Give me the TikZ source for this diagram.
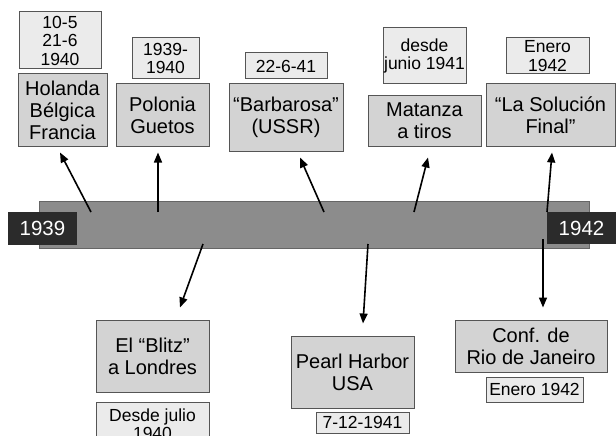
\documentclass[tikz,border=0pt]{standalone}
\usepackage{fontspec}
\setmainfont{Liberation Sans}
\usepackage{xcolor}
\usepackage{tikz}
\usetikzlibrary{calc, arrows.meta}

\definecolor{barfill}{HTML}{8C8C8C}
\definecolor{barline}{HTML}{666666}
\definecolor{eventfill}{HTML}{D3D3D3}
\definecolor{datefill}{HTML}{EBEBEB}
\definecolor{boxline}{HTML}{555555}
\definecolor{yearfill}{HTML}{2B2B2B}

\begin{document}
\begin{tikzpicture}[x=1pt, y=-1pt,
        eventbox/.style={draw=boxline, fill=eventfill, line width=1pt, inner sep=0pt,
            align=center, font=\fontsize{20}{22}\selectfont},
        datebox/.style={draw=boxline, fill=datefill, line width=1pt, inner sep=0pt,
            align=center, font=\fontsize{17.5}{18.5}\selectfont},
        yearbox/.style={fill=yearfill, text=white, inner sep=0pt,
            font=\fontsize{20.5}{22}\selectfont},
        arr/.style={-{Triangle[length=10pt, width=8pt]}, line width=1.6pt}]
    \useasboundingbox (0, 0) rectangle (616, 436);

    \node[draw=barline, fill=barfill, line width=1pt,
        minimum width=550pt, minimum height=47pt] (bar) at (314, 224.5) {};

    % events above the bar
    \node[datebox, minimum width=82pt, minimum height=57pt] (d-holanda) at (60, 40.5) {10-5\\21-6\\1940};
    \node[eventbox, minimum width=89pt, minimum height=72pt] (holanda) at (62.5, 110) {Holanda\\Bélgica\\Francia};

    \node[datebox, minimum width=67pt, minimum height=41pt] (d-polonia) at (165.5, 58.5) {1939-\\1940};
    \node[eventbox, minimum width=93pt, minimum height=62pt] (polonia) at (162.5, 115) {Polonia\\Guetos};

    \node[datebox, minimum width=82pt, minimum height=26pt] (d-barbarosa) at (286, 66) {22-6-41};
    \node[eventbox, minimum width=114pt, minimum height=67pt] (barbarosa) at (286, 117.5) {“Barbarosa”\\(USSR)};

    \node[datebox, minimum width=83pt, minimum height=56pt] (d-matanza) at (424.5, 56) {desde\\junio 1941};
    \node[eventbox, minimum width=113pt, minimum height=51pt] (matanza) at (424.5, 120.5) {Matanza\\a tiros};

    \node[datebox, minimum width=83pt, minimum height=36pt] (d-solucion) at (547.5, 56) {Enero\\1942};
    \node[eventbox, minimum width=129pt, minimum height=62pt] (solucion) at (550.5, 115) {“La Solución\\Final”};

    % events below the bar
    \node[eventbox, minimum width=113pt, minimum height=72pt] (blitz) at (152.5, 356) {El “Blitz”\\a Londres};
    \node[datebox, minimum width=113pt, minimum height=44pt] (d-blitz) at (152.5, 424) {Desde julio\\1940};

    \node[eventbox, minimum width=123pt, minimum height=72pt] (pearl) at (352.5, 372) {Pearl Harbor\\USA};
    \node[datebox, minimum width=93pt, minimum height=21pt] (d-pearl) at (362.5, 422.5) {7-12-1941};

    \node[eventbox, minimum width=152pt, minimum height=52pt] (rio) at (531, 346) {Conf. de\\Rio de Janeiro};
    \node[datebox, minimum width=97pt, minimum height=25pt] (d-rio) at (534.5, 389.5) {Enero 1942};

    % points on the bar
    \coordinate (p-holanda) at (91, 212);
    \coordinate (p-polonia) at (158, 212);
    \coordinate (p-barbarosa) at (324, 212);
    \coordinate (p-matanza) at (414, 212);
    \coordinate (p-solucion) at (547, 212);
    \coordinate (p-blitz) at (203, 244);
    \coordinate (p-pearl) at (368, 244);
    \coordinate (p-rio) at (543, 239);

    \draw[arr] (p-holanda) -- ($(holanda.south) + (-2.5, 6)$);
    \draw[arr] (p-polonia) -- ($(polonia.south) + (-4.5, 6)$);
    \draw[arr] (p-barbarosa) -- ($(barbarosa.south) + (14, 6)$);
    \draw[arr] (p-matanza) -- ($(matanza.south) + (3.5, 11)$);
    \draw[arr] (p-solucion) -- ($(solucion.south) + (1.5, 6)$);
    \draw[arr] (p-blitz) -- ($(blitz.north) + (27.5, -12)$);
    \draw[arr] (p-pearl) -- ($(pearl.north) + (10.5, -12)$);
    \draw[arr] (p-rio) -- ($(rio.north) + (12, -12)$);

    \node[yearbox, minimum width=69pt, minimum height=33pt] (y1939) at (42.5, 228.5) {1939};
    \node[yearbox, minimum width=69pt, minimum height=32pt] (y1942) at (581.5, 228) {1942};
\end{tikzpicture}
\end{document}
